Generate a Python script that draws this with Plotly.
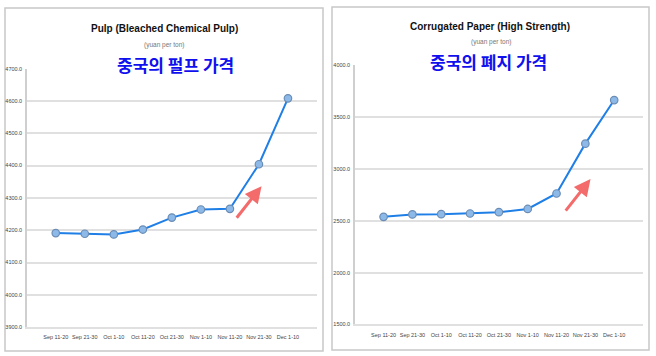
import plotly.graph_objects as go

periods = ["Sep 11-20", "Sep 21-30", "Oct 1-10", "Oct 11-20", "Oct 21-30",
           "Nov 1-10", "Nov 11-20", "Nov 21-30", "Dec 1-10"]
pulp_prices = [4191, 4189, 4187, 4202, 4239, 4264, 4266, 4404, 4608]
paper_prices = [2538, 2561, 2564, 2570, 2583, 2614, 2763, 3244, 3664]

pulp_ticks = [3900, 4000, 4100, 4200, 4300, 4400, 4500, 4600, 4700]
paper_ticks = [1500, 2000, 2500, 3000, 3500, 4000]

left_title = "Pulp (Bleached Chemical Pulp)"
right_title = "Corrugated Paper (High Strength)"
unit_label = "(yuan per ton)"
left_korean = "중국의 펄프 가격"
right_korean = "중국의 폐지 가격"

SANS = "Liberation Sans, Arial, sans-serif"
LINE_C = "#1f7fe6"
GRID_C = "#e0e0e0"
AX_C = "#cfcfcf"
ARROW_C = "#f46b6b"

fig = go.Figure()
for i, vals in enumerate([pulp_prices, paper_prices]):
    sfx = "" if i == 0 else "2"
    fig.add_trace(go.Scatter(
        x=periods, y=vals, mode="lines+markers",
        xaxis="x" + sfx, yaxis="y" + sfx,
        line=dict(color=LINE_C, width=2),
        marker=dict(size=7.5, color="#8db9e8", line=dict(color="#6b8db5", width=1.2)),
        showlegend=False, hoverinfo="skip"))

def xax(domain, anchor):
    return dict(domain=domain, anchor=anchor, type="category", range=[-0.99, 9.0],
                showgrid=False, showline=True, linecolor=GRID_C, linewidth=1.5,
                ticks="outside", ticklen=4, tickcolor="rgba(0,0,0,0)", tickangle=0,
                tickfont=dict(family=SANS, size=5.5, color="#444"), fixedrange=True)

def yax(domain, anchor, rng, tv):
    return dict(domain=domain, anchor=anchor, range=rng, tickvals=tv,
                tickformat=".1f", showgrid=True, gridcolor=GRID_C, gridwidth=1.5,
                showline=True, linecolor=AX_C, linewidth=1.5, zeroline=False,
                ticks="outside", ticklen=2, tickcolor="rgba(0,0,0,0)",
                tickfont=dict(family=SANS, size=5.5, color="#444"), fixedrange=True)

fig.update_layout(
    width=656, height=356, margin=dict(l=0, r=0, t=0, b=0),
    paper_bgcolor="white", plot_bgcolor="white",
    xaxis=xax([0.0412, 0.4832], "y"),
    yaxis=yax([0.0739, 0.8126], "x", [3900, 4700], pulp_ticks),
    xaxis2=xax([0.5412, 0.9802], "y2"),
    yaxis2=yax([0.0815, 0.8222], "x2", [1500, 4000], paper_ticks),
)

# panel frames
fig.add_shape(type="rect", xref="paper", yref="paper",
              x0=5/656, x1=323/656, y0=1-354/356, y1=1-5/356,
              line=dict(color="#c8c8c8", width=1.5), layer="below")
fig.add_shape(type="rect", xref="paper", yref="paper",
              x0=332/656, x1=649/656, y0=1-353/356, y1=1-4/356,
              line=dict(color="#c8c8c8", width=1.5), layer="below")

def txt(x, y, s, size, color, family, bold=False):
    fig.add_annotation(xref="paper", yref="paper", x=x/656, y=1-y/356,
                       text=("<b>%s</b>" % s) if bold else s, showarrow=False,
                       xanchor="center", yanchor="middle",
                       font=dict(size=size, color=color, family=family))

txt(164, 26, left_title, 10, "#111", SANS, True)
txt(164, 43, unit_label, 6.5, "#777", SANS)
txt(175, 63, left_korean, 17, "#1010ee", "Noto Sans CJK KR", True)

txt(490, 24, right_title, 10, "#111", SANS, True)
txt(491, 39.5, unit_label, 6.5, "#777", SANS)
txt(488, 60, right_korean, 17, "#1010ee", "Noto Sans CJK KR", True)

# red arrows
fig.add_annotation(xref="x", yref="y", x=7.09, y=4336, ax=-26, ay=33, text="",
                   showarrow=True, arrowhead=2, arrowsize=1.1, arrowwidth=3,
                   arrowcolor=ARROW_C, standoff=0)
fig.add_annotation(xref="x2", yref="y2", x=7.18, y=2902, ax=-26, ay=33, text="",
                   showarrow=True, arrowhead=2, arrowsize=1.1, arrowwidth=3,
                   arrowcolor=ARROW_C, standoff=0)

fig.write_html("out.html", config={"displayModeBar": False},
               post_script="document.body.style.margin='0';document.body.style.overflow='hidden';")
